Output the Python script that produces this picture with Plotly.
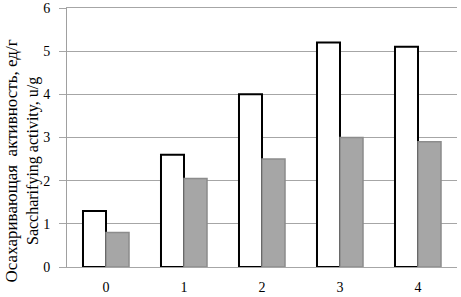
import plotly.graph_objects as go

categories = ["0", "1", "2", "3", "4"]
series_white = [1.3, 2.6, 4.0, 5.2, 5.1]
series_gray = [0.8, 2.05, 2.5, 3.0, 2.9]
y_ticks = [0, 1, 2, 3, 4, 5, 6]

font_family = "Liberation Serif, Times New Roman, serif"

fig = go.Figure()
fig.add_trace(go.Bar(
    x=categories, y=series_white,
    marker=dict(color="white", line=dict(color="black", width=2)),
    showlegend=False,
))
fig.add_trace(go.Bar(
    x=categories, y=series_gray,
    marker=dict(color="#a6a6a6", line=dict(color="#8c8c8c", width=1.5)),
    showlegend=False,
))

fig.update_layout(
    width=461, height=297,
    margin=dict(l=67, r=4, t=8, b=30, autoexpand=False),
    paper_bgcolor="white", plot_bgcolor="white",
    barmode="group", bargap=0.41, bargroupgap=0,
    font=dict(family=font_family, size=14, color="black"),
    xaxis=dict(
        type="category",
        showline=True, linecolor="#a6a6a6", linewidth=1, mirror=True,
        showgrid=False, ticks="", ticklen=0,
        ticklabelstandoff=7,
        tickfont=dict(family=font_family, size=14),
    ),
    yaxis=dict(
        range=[0, 6], tickvals=y_ticks,
        showgrid=True, gridcolor="#a6a6a6", gridwidth=1,
        showline=True, linecolor="#a0a0a0", linewidth=1,
        zeroline=False, ticks="outside", ticklen=7, tickcolor="#a6a6a6",
        ticklabelstandoff=6, ticklabeloverflow="allow",
        tickfont=dict(family=font_family, size=14),
    ),
    annotations=[dict(
        text="<span style='font-size:17px'>Осахаривающая  активность, ед/г</span><br>Saccharifying activity, u/g",
        xref="paper", yref="paper",
        x=-0.06, y=0.41, xanchor="right", yanchor="middle",
        textangle=-90, showarrow=False,
        font=dict(family=font_family, size=16, color="black"),
    )],
)

fig.write_html(
    "out.html",
    config={"displayModeBar": False},
    post_script="document.body.style.margin='0';document.body.style.padding='0';document.body.style.overflow='hidden';",
)
